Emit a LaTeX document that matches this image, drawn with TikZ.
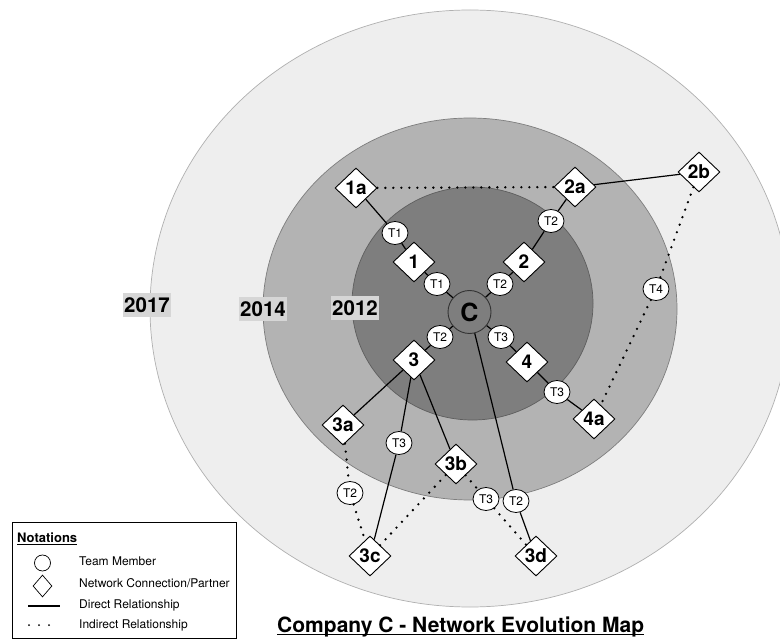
\documentclass[tikz,border=0pt]{standalone}
\usepackage{fontspec}
\setmainfont{TeX Gyre Heros}
\usetikzlibrary{shapes.geometric}
\definecolor{ringout}{HTML}{EEEEEE}
\definecolor{ringoutb}{HTML}{B0B0B0}
\definecolor{ringmid}{HTML}{B3B3B3}
\definecolor{ringmidb}{HTML}{7E7E7E}
\definecolor{ringin}{HTML}{7E7E7E}
\definecolor{ringinb}{HTML}{5E5E5E}
\definecolor{yearbg}{HTML}{D6D6D6}
\begin{document}
\begin{tikzpicture}[x=1pt,y=-1pt,
  partner/.style={diamond,draw=black,line width=0.9pt,fill=white,minimum width=42pt,minimum height=40pt,inner sep=0pt,font=\fontsize{19}{19}\selectfont\bfseries},
  member/.style={ellipse,draw=black,line width=0.8pt,fill=white,minimum width=26pt,minimum height=23pt,inner sep=0pt,font=\fontsize{12}{12}\selectfont},
  direct/.style={line width=1.2pt},
  indirect/.style={line width=2.6pt,line cap=round,dash pattern=on 0pt off 8pt},
  yearlabel/.style={fill=yearbg,inner xsep=1pt,inner ysep=4.5pt,font=\fontsize{20.5}{20.5}\selectfont\bfseries},
  legtext/.style={anchor=west,inner sep=0pt,font=\fontsize{12}{12}\selectfont}]
\useasboundingbox (0,0) rectangle (780,639);
\fill[white] (0,0) rectangle (780,639);
% rings
\draw[fill=ringout,draw=ringoutb,line width=0.7pt] (470,308.5) ellipse [x radius=320, y radius=298.5];
\draw[fill=ringmid,draw=ringmidb,line width=0.7pt] (470,309) ellipse [x radius=207, y radius=191];
\draw[fill=ringin,draw=ringinb,line width=0.7pt] (472.5,303.5) ellipse [x radius=120.5, y radius=116.5];
% year labels
\node[yearlabel] (y2017) at (147,305) {2017};
\node[yearlabel] (y2014) at (263,309) {2014};
\node[yearlabel] (y2012) at (355,308) {2012};
% center
\node[circle,draw=black!80,line width=0.9pt,fill=ringin,minimum size=43pt,inner sep=0pt,font=\fontsize{25}{25}\selectfont\bfseries] (C) at (469.5,312) {C};
% partners
\node[partner] (n1a) at (356,188) {1a};
\node[partner] (n2a) at (575,187) {2a};
\node[partner] (n2b) at (699,172) {2b};
\node[partner] (n1) at (414,262) {1};
\node[partner] (n2) at (524,262) {2};
\node[partner] (n3) at (414,360) {3};
\node[partner] (n4) at (527,362) {4};
\node[partner] (n4a) at (594,419) {4a};
\node[partner] (n3a) at (343,425) {3a};
\node[partner] (n3b) at (456,464) {3b};
\node[partner] (n3c) at (370,556) {3c};
\node[partner] (n3d) at (536,556) {3d};
% team members
\node[member] (t1a) at (395,233) {T1};
\node[member] (t1b) at (437,284) {T1};
\node[member] (t2a) at (551,221) {T2};
\node[member] (t2b) at (500,284) {T2};
\node[member] (t2c) at (440,337) {T2};
\node[member] (t3a) at (501,337) {T3};
\node[member] (t3b) at (557,392) {T3};
\node[member] (t4) at (656,289) {T4};
\node[member] (t3c) at (399,443) {T3};
\node[member] (t2d) at (350,493) {T2};
\node[member] (t3d) at (486,499) {T3};
\node[member] (t2e) at (516,501) {T2};
% direct relationships
\draw[direct] (n1a) -- (t1a) -- (n1) -- (t1b) -- (C);
\draw[direct] (n2a) -- (t2a) -- (n2) -- (t2b) -- (C);
\draw[direct] (n2a) -- (n2b);
\draw[direct] (C) -- (t2c) -- (n3);
\draw[direct] (C) -- (t3a) -- (n4) -- (t3b) -- (n4a);
\draw[direct] (n3) -- (n3a);
\draw[direct] (n3) -- (t3c) -- (n3c);
\draw[direct] (n3) -- (n3b);
\draw[direct] (C) -- (t2e) -- (n3d);
% indirect relationships
\draw[indirect] (n1a) -- (n2a);
\draw[indirect] (n2b) -- (t4) -- (n4a);
\draw[indirect] (n3a) -- (t2d) -- (n3c);
\draw[indirect] (n3c) -- (n3b);
\draw[indirect] (n3b) -- (t3d) -- (n3d);
% legend
\node[draw=black,line width=0.8pt,fill=white,anchor=north west,minimum width=224pt,minimum height=116pt,inner sep=0pt] (legend) at (12,522) {};
\node[anchor=base west,inner sep=0pt,font=\fontsize{13}{13}\selectfont\bfseries] (legtitle) at (17,542) {Notations};
\draw[line width=0.9pt] ([yshift=-2pt]legtitle.base west) -- ([yshift=-2pt]legtitle.base east);
\node[circle,draw=black,line width=0.7pt,minimum size=16pt,inner sep=0pt] (legcirc) at (42.5,563) {};
\node[diamond,draw=black,line width=0.7pt,minimum width=19pt,minimum height=22pt,inner sep=0pt] (legdiam) at (42.5,586) {};
\coordinate (lda) at (28,606);
\coordinate (ldb) at (60,606);
\draw[direct] (lda) -- (ldb);
\coordinate (lia) at (29,625);
\coordinate (lib) at (59,625);
\draw[indirect,line width=2pt,dash pattern=on 0pt off 10pt] (lia) -- (lib);
\node[legtext] (lt1) at (79,561) {Team Member};
\node[legtext] (lt2) at (79,583) {Network Connection/Partner};
\node[legtext] (lt3) at (79,605) {Direct Relationship};
\node[legtext] (lt4) at (79,625) {Indirect Relationship};
% title
\node[anchor=base west,inner sep=0pt,font=\fontsize{21}{21}\selectfont\bfseries] (title) at (277,632) {Company C - Network Evolution Map};
\draw[line width=1.4pt] ([yshift=-2.5pt]title.base west) -- ([yshift=-2.5pt]title.base east);
\end{tikzpicture}
\end{document}
